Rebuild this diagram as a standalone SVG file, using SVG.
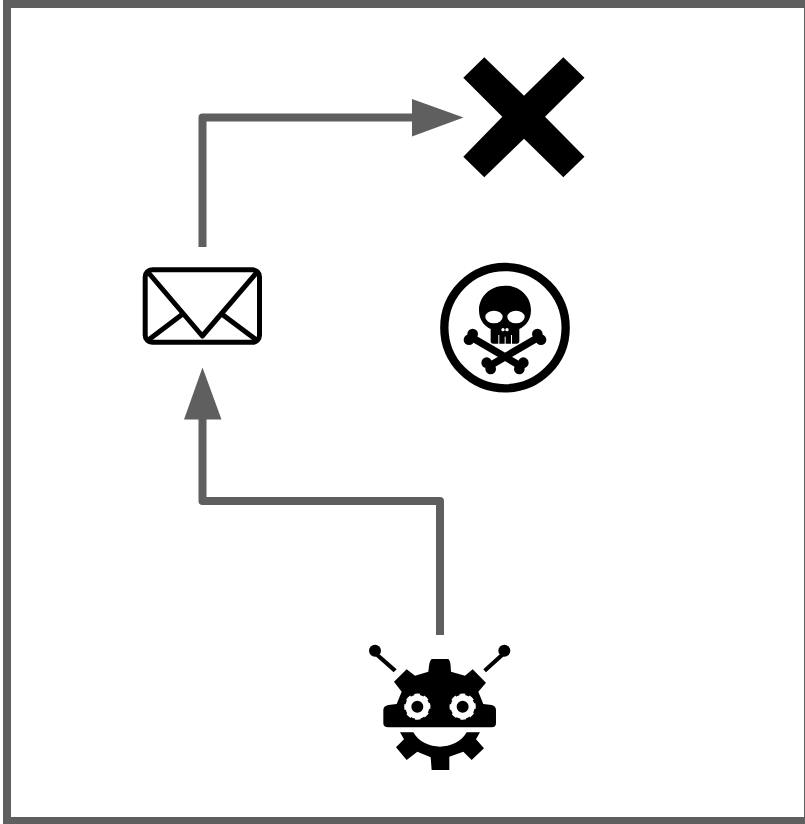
<svg xmlns="http://www.w3.org/2000/svg" width="805" height="824" viewBox="0 0 805 824">
<style>
.conn{fill:none;stroke:#5f5f5f;stroke-width:8;stroke-linejoin:round}
.head{fill:#5f5f5f}
.ink{fill:#000}
.wh{fill:#fff}
</style>
<rect width="805" height="824" fill="#fff"/>
<rect id="frame" x="7" y="4" width="801" height="817" fill="none" stroke="#5f5f5f" stroke-width="8"/>
<g id="connectors">
<path class="conn" d="M202.5 247V117.5H413"/>
<polygon class="head" points="463.5,117.5 412,99 412,136.5"/>
<path class="conn" d="M440 635V501H202.5V418"/>
<polygon class="head" points="202.5,367.5 184,419.5 221.5,419.5"/>
</g>
<g id="cross">
<polygon class="ink" points="484.3,57.3 524,95.7 563.3,57.3 584.5,77.7 545,116.7 584.5,156.7 563.3,177.3 524,138.7 484.3,177.3 463.3,156.7 502.3,116.7 463.3,77.7"/>
</g>
<g id="envelope" fill="none" stroke="#000" stroke-width="5" stroke-linejoin="round">
<rect x="145.2" y="269.8" width="114.3" height="72.5" rx="7"/>
<path d="M147 271L202.3 336L258 271M147 341L182.7 314M258 341L221.7 314"/>
</g>
<g id="skull" transform="translate(430 255) scale(.3333)">
<circle cx="225" cy="218" r="182" fill="none" stroke="#000" stroke-width="25"/>
<path d="M125 247L275 335M325 247L175 335" fill="none" stroke="#000" stroke-width="22"/>
<g class="ink">
<circle cx="128" cy="237" r="16"/><circle cx="117" cy="254" r="16"/>
<circle cx="322" cy="237" r="16"/><circle cx="333" cy="254" r="16"/>
<circle cx="170" cy="323" r="16"/><circle cx="182" cy="342" r="16"/>
<circle cx="280" cy="323" r="16"/><circle cx="268" cy="342" r="16"/>
<path d="M225 92C270 92 303 125 303 165C303 195 288 212 268 222V258Q268 266 260 266H190Q182 266 182 258V222C162 212 147 195 147 165C147 125 180 92 225 92Z"/>
</g>
<g class="wh">
<ellipse cx="192" cy="186" rx="26" ry="19"/>
<ellipse cx="258" cy="186" rx="26" ry="19"/>
<circle cx="219" cy="224" r="5"/><circle cx="231" cy="224" r="5"/>
<rect x="205" y="240" width="3" height="27"/>
<rect x="224" y="245" width="3" height="22"/>
<rect x="243" y="240" width="3" height="27"/>
</g>
</g>
<g id="robot" transform="translate(350 630) scale(.3333)">
<g class="ink">
<circle cx="75" cy="62" r="18"/><circle cx="463" cy="62" r="18"/>
<path d="M83 70L92 76L140 118L131 127L76 78ZM455 70L446 76L400 118L408 127L462 78Z"/>
<path d="M245 87H295Q302 90 303 125L345 137L368 118L408 158L385 185L400 222L425 225Q438 228 438 240V280Q438 292 425 292H115Q100 292 100 280V240Q100 228 115 225L140 222L155 185L132 155L170 118L195 137L235 125Q238 90 245 87Z"/>
<path d="M150 307H190C205 335 240 350 270 350C300 350 335 335 350 307H390L378 328L402 355L365 390L340 365L298 380V420H245L242 382L202 365L170 390L138 352L162 328Z"/>
</g>
<g fill="none" stroke="#fff">
<circle cx="202" cy="230" r="27" stroke-width="18"/>
<circle cx="338" cy="230" r="27" stroke-width="18"/>
<circle cx="202" cy="230" r="35" stroke-width="9" stroke-dasharray="16 11.5" transform="rotate(-16 202 230)"/>
<circle cx="338" cy="230" r="35" stroke-width="9" stroke-dasharray="16 11.5" transform="rotate(-16 338 230)"/>
</g>
</g>
</svg>
